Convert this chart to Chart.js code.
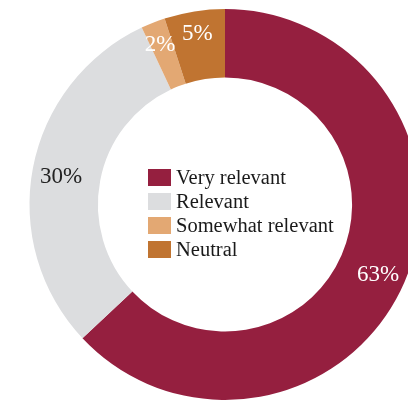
<!DOCTYPE html>
<html>
<head>
<meta charset="utf-8">
<script src="https://cdn.jsdelivr.net/npm/chart.js@4.4.0/dist/chart.umd.min.js"></script>
<style>
  html, body { margin: 0; padding: 0; background: #fff; overflow: hidden; }
  #wrap { position: relative; width: 450px; height: 408px; }
</style>
</head>
<body>
<div id="wrap"><canvas id="relevance"></canvas></div>
<script>
const categories = ['Very relevant', 'Relevant', 'Somewhat relevant', 'Neutral'];
const shares = [63, 30, 2, 5];
const sliceColors = ['#951f3f', '#dcdddf', '#e3a873', '#c07431'];
const labelColors = ['#ffffff', '#222222', '#ffffff', '#ffffff'];

// percentage text inside each slice
const sliceLabels = {
    id: 'sliceLabels',
    afterDatasetsDraw(chart) {
        const ctx = chart.ctx;
        const meta = chart.getDatasetMeta(0);
        ctx.save();
        ctx.font = '23px "Liberation Serif", "Times New Roman", serif';
        ctx.textAlign = 'center';
        ctx.textBaseline = 'middle';
        meta.data.forEach((arc, i) => {
            const p = arc.getProps(['x', 'y', 'startAngle', 'endAngle', 'innerRadius', 'outerRadius'], true);
            const mid = (p.startAngle + p.endAngle) / 2;
            // thin slices get their label pushed toward the rim
            const frac = shares[i] < 10 ? 0.72 : 0.58;
            const r = p.innerRadius + frac * (p.outerRadius - p.innerRadius);
            ctx.fillStyle = labelColors[i];
            ctx.fillText(shares[i] + '%', p.x + Math.cos(mid) * r, p.y + Math.sin(mid) * r + 4);
        });
        ctx.restore();
    }
};

// legend drawn in the hole of the ring
const centerLegend = {
    id: 'centerLegend',
    afterDraw(chart) {
        const ctx = chart.ctx;
        const x0 = 148, y0 = 169, rowH = 24;
        ctx.save();
        ctx.font = '20.5px "Liberation Serif", "Times New Roman", serif';
        ctx.textAlign = 'left';
        ctx.textBaseline = 'middle';
        chart.data.labels.forEach((lab, i) => {
            const y = y0 + i * rowH;
            ctx.fillStyle = sliceColors[i];
            ctx.fillRect(x0, y, 23, 17);
            ctx.fillStyle = '#1a1a1a';
            ctx.fillText(lab, x0 + 28, y + 10);
        });
        ctx.restore();
    }
};

new Chart(document.getElementById('relevance'), {
    type: 'doughnut',
    data: {
        labels: categories,
        datasets: [{
            data: shares,
            backgroundColor: sliceColors,
            borderWidth: 0
        }]
    },
    options: {
        responsive: true,
        maintainAspectRatio: false,
        animation: false,
        cutout: '65%',
        layout: { padding: { top: 9, bottom: 8 } },
        plugins: { legend: { display: false }, tooltip: { enabled: false } }
    },
    plugins: [sliceLabels, centerLegend]
});
</script>
</body>
</html>
